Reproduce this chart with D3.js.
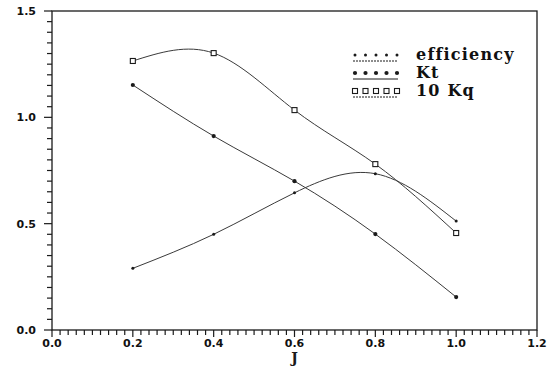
<!DOCTYPE html>
<html>
<head>
<meta charset="utf-8">
<script src="https://cdn.jsdelivr.net/npm/d3@7"></script>
<style>
  body { margin: 0; background: #fff; }
  svg { display: block; }
  .tick-label { font-family: "DejaVu Sans", sans-serif; font-weight: bold; font-size: 11px; fill: #111; }
  .legend { font-family: "DejaVu Serif", serif; font-weight: bold; font-size: 16px; fill: #111; letter-spacing: 1.2px; }
</style>
</head>
<body>
<div class="chart"></div>
<script>
// data
var J = [0.2, 0.4, 0.6, 0.8, 1.0];
var efficiency = [0.29, 0.45, 0.645, 0.735, 0.512];
var kt = [1.152, 0.912, 0.70, 0.451, 0.155];
var kq10 = [1.265, 1.302, 1.034, 0.78, 0.456];
var xTicks = [0.0, 0.2, 0.4, 0.6, 0.8, 1.0, 1.2];
var yTicks = [0.0, 0.5, 1.0, 1.5];
var legendNames = ['efficiency', 'Kt', '10 Kq'];

var width = 550, height = 371;
var mLeft = 52, mRight = 537, mTop = 11, mBottom = 330;
var ink = '#1a1a1a';

var x = d3.scaleLinear().domain([0, 1.2]).range([mLeft, mRight]);
var y = d3.scaleLinear().domain([0, 1.5]).range([mBottom, mTop]);

var svg = d3.select('.chart').append('svg')
  .attr('width', width)
  .attr('height', height);

// frame
svg.append('rect')
  .attr('x', mLeft).attr('y', mTop)
  .attr('width', mRight - mLeft).attr('height', mBottom - mTop)
  .attr('fill', 'none').attr('stroke', ink).attr('stroke-width', 1.3);

// x axis, minor ticks every 0.02
var xMinor = d3.range(0, 1.2001, 0.02);
svg.append('g').selectAll('line')
  .data(xMinor)
  .enter().append('line')
  .attr('x1', function(d) { return x(d); })
  .attr('x2', function(d) { return x(d); })
  .attr('y1', mBottom)
  .attr('y2', function(d, i) { return mBottom + (i % 10 === 0 ? 7 : 5); })
  .attr('stroke', ink).attr('stroke-width', 1.2);

svg.append('g').selectAll('text')
  .data(xTicks)
  .enter().append('text')
  .attr('class', 'tick-label')
  .attr('x', function(d) { return x(d); })
  .attr('y', mBottom + 17)
  .attr('text-anchor', 'middle')
  .text(function(d) { return d.toFixed(1); });

// y axis, minor ticks every 0.05
var yMinor = d3.range(0, 1.5001, 0.05);
svg.append('g').selectAll('line')
  .data(yMinor)
  .enter().append('line')
  .attr('y1', function(d) { return y(d); })
  .attr('y2', function(d) { return y(d); })
  .attr('x1', mLeft)
  .attr('x2', function(d, i) { return mLeft - (i % 10 === 0 ? 8 : 5); })
  .attr('stroke', ink).attr('stroke-width', 1.2);

svg.append('g').selectAll('text')
  .data(yTicks)
  .enter().append('text')
  .attr('class', 'tick-label')
  .attr('x', mLeft - 16)
  .attr('y', function(d) { return y(d) + 4; })
  .attr('text-anchor', 'end')
  .text(function(d) { return d.toFixed(1); });

svg.append('text')
  .attr('x', x(0.6)).attr('y', 363)
  .attr('text-anchor', 'middle')
  .style('font-family', '"DejaVu Serif", serif')
  .style('font-weight', 'bold')
  .style('font-size', '14px')
  .attr('fill', ink)
  .text('J');

// curves
var line = d3.line()
  .x(function(d) { return x(d[0]); })
  .y(function(d) { return y(d[1]); })
  .curve(d3.curveNatural);

function pts(vals) { return J.map(function(j, i) { return [j, vals[i]]; }); }

[efficiency, kt, kq10].forEach(function(s) {
  svg.append('path')
    .attr('d', line(pts(s)))
    .attr('fill', 'none')
    .attr('stroke', '#3a3a3a')
    .attr('stroke-width', 1);
});

// markers
function drawMarker(g, type, cx, cy) {
  if (type === 0) {
    g.append('circle').attr('cx', cx).attr('cy', cy).attr('r', 1.5).attr('fill', ink);
  } else if (type === 1) {
    g.append('circle').attr('cx', cx).attr('cy', cy).attr('r', 2.1).attr('fill', ink);
  } else {
    g.append('rect').attr('x', cx - 2.5).attr('y', cy - 2.5).attr('width', 5).attr('height', 5)
      .attr('fill', '#fff').attr('stroke', ink).attr('stroke-width', 1.1);
  }
}

var markersG = svg.append('g');
[efficiency, kt, kq10].forEach(function(s, k) {
  s.forEach(function(v, i) { drawMarker(markersG, k, x(J[i]), y(v)); });
});

// legend
var legendY = [60, 78, 96];
legendNames.forEach(function(name, k) {
  var ly = legendY[k];
  var g = svg.append('g');
  for (var m = 0; m < 5; m++) {
    drawMarker(g, k, 355 + m * 10.5, ly - 5);
  }
  g.append('line')
    .attr('x1', 353).attr('x2', 398)
    .attr('y1', ly + 1).attr('y2', ly + 1)
    .attr('stroke', ink).attr('stroke-width', 1)
    .attr('stroke-dasharray', k === 1 ? null : '2,1');
  svg.append('text')
    .attr('class', 'legend')
    .attr('x', 416).attr('y', ly)
    .text(name);
});
</script>
</body>
</html>
